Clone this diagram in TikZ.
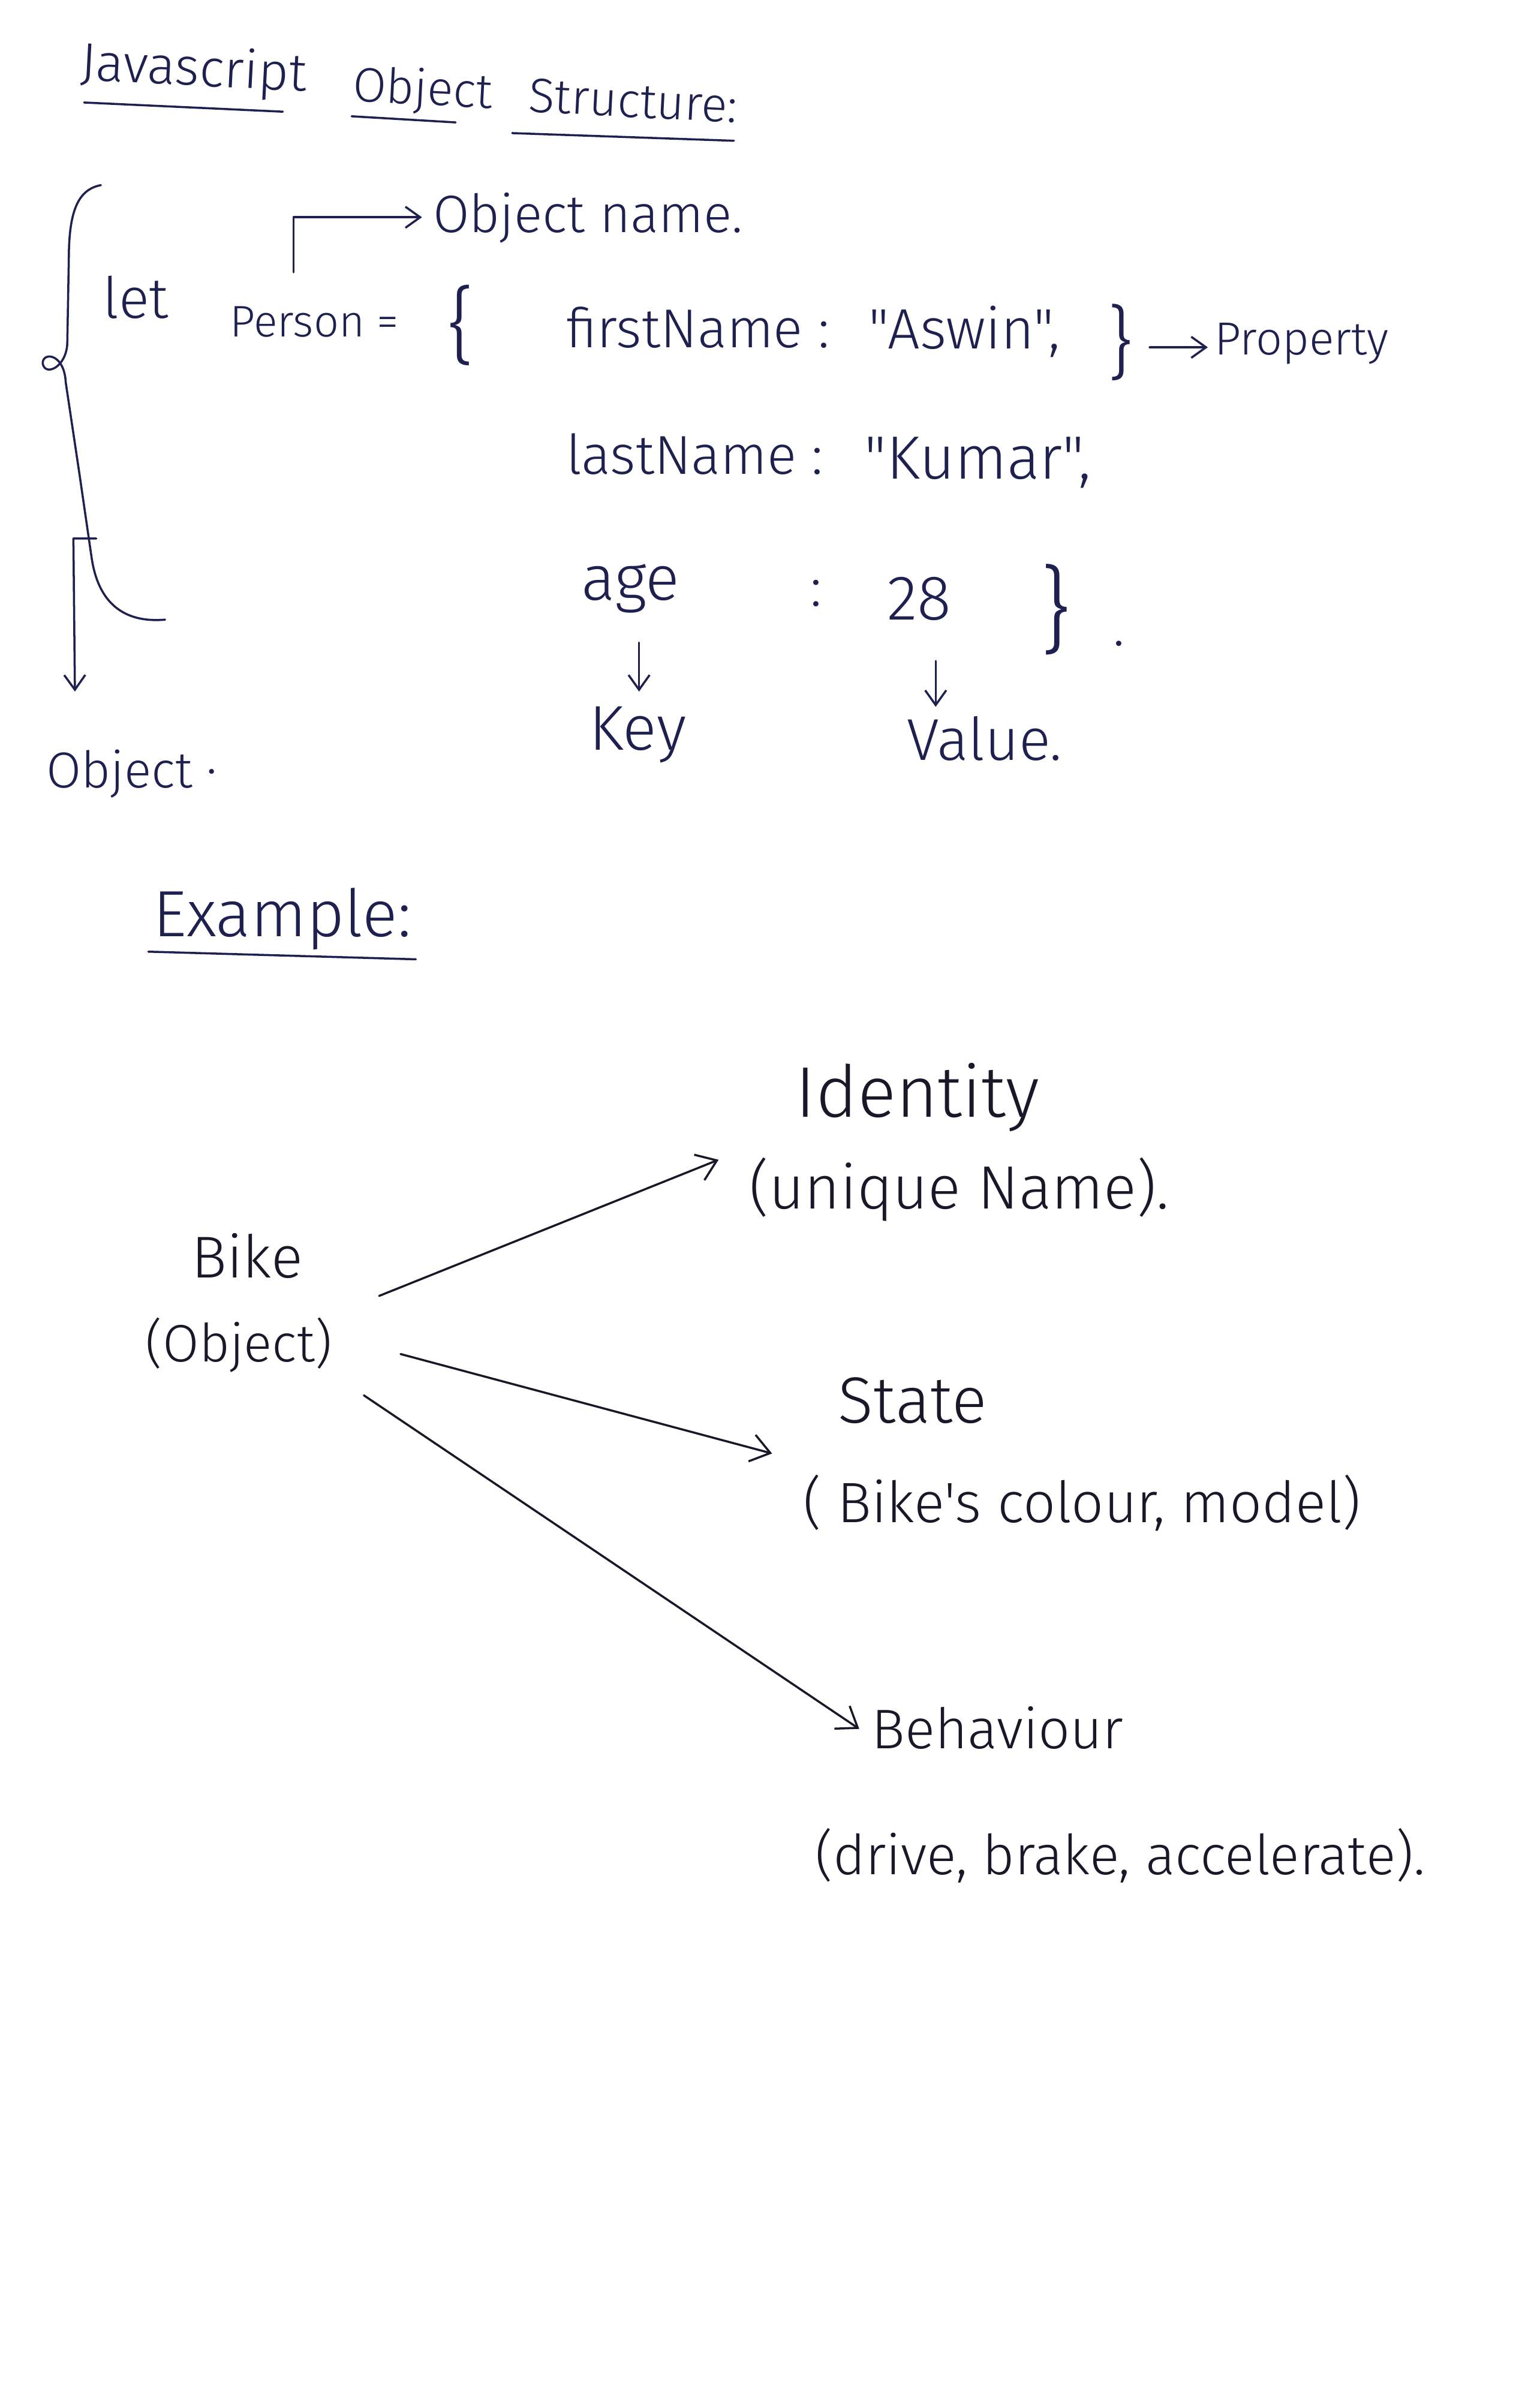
\documentclass[tikz,border=0pt]{standalone}
\usepackage{fontspec}
\setmainfont{Fira Sans}[UprightFont={* Light}, Ligatures=TeXOff]
\usetikzlibrary{arrows.meta}
\definecolor{inkA}{RGB}{30,32,80}
\definecolor{inkB}{RGB}{24,24,40}
\newcommand{\fs}[1]{\fontsize{#1}{#1}\selectfont}
\begin{document}
\begin{tikzpicture}[x=0.0255cm,y=-0.02551cm,
  txt/.style={inner sep=0pt, anchor=base west, text=inkA, font=\fs{26}},
  txtb/.style={txt, text=inkB},
  ttl/.style={txt, font=\fs{23}, rotate=-3},
  pen/.style={draw=inkA, line width=1pt, line cap=round, line join=round},
  penb/.style={pen, draw=inkB},
  arr/.style={pen, -{Straight Barb[length=7pt,width=10pt]}},
  arrb/.style={penb, -{Straight Barb[length=9pt,width=13pt]}}]
\useasboundingbox[fill=white] (0,0) rectangle (1007,1568);

% title
\node[ttl, font=\fs{25}] (t1) at (52,52) {Javascript};
\node[ttl] (t2) at (230,66) {Object};
\node[ttl] (t3) at (345,73) {Structure:};
\draw[pen] (55,67) -- (185,73);
\draw[pen] (230,76) -- (298,80);
\draw[pen] (335,87) -- (480,92);

% object name
\node[txt, font=\fs{25}] (oname) at (283,152) {Object name.};
\coordinate (onS) at (192,178);
\coordinate (onC) at (192,142);
\coordinate (onE) at (276,142);
\draw[arr] (onS) -- (onC) -- (onE);

% code
\node[txt, font=\fs{27}] (let) at (67,208) {let};
\node[txt, font=\fs{21}] (person) at (150,220) {Person =};
\node[txt, font=\fs{40}] (lb) at (292,232) {\{};
\node[txt] (fn) at (370,227) {firstName :};
\node[txt, font=\fs{27}] (asw) at (568,228) {"Aswin",};
\node[txt, font=\fs{38}] (rb1) at (724,242) {\}};
\coordinate (pS) at (752,227);
\coordinate (pE) at (790,227);
\draw[arr] (pS) -- (pE);
\node[txt, font=\fs{22}] (prop) at (794,232) {Property};
\node[txt] (ln) at (370,310) {lastName :};
\node[txt, font=\fs{29}] (kum) at (565,313) {"Kumar",};
\node[txt, font=\fs{30}] (age) at (380,392) {age};
\node[txt] (col3) at (530,396) {:};
\node[txt, font=\fs{30}] (v28) at (580,405) {28};
\node[txt, font=\fs{45}] (rb2) at (680,420) {\}};
\node[txt] (dot) at (728,422) {.};
\coordinate (kS) at (418,420);
\coordinate (kE) at (418,452);
\draw[arr] (kS) -- (kE);
\node[txt, font=\fs{30}] (key) at (385,490) {Key};
\coordinate (vS) at (612,432);
\coordinate (vE) at (612,462);
\draw[arr] (vS) -- (vE);
\node[txt, font=\fs{28}] (val) at (593,497) {Value.};

% big brace
\draw[pen] (66,121) .. controls (50,124) and (45,140) .. (45,170)
  -- (44,225) .. controls (43,240) and (30,246) .. (28,238)
  .. controls (27,230) and (42,230) .. (43,250)
  -- (52,310) -- (60,365) .. controls (65,398) and (85,407) .. (108,405);
\coordinate (obS) at (63,352);
\coordinate (obC) at (48,352);
\coordinate (obE) at (49,452);
\draw[arr] (obS) -- (obC) -- (obE);
\node[txt, font=\fs{24}] (obj) at (30,515) {Object ·};

% example
\node[txt, font=\fs{31}] (ex) at (100,612) {Example:};
\draw[pen] (97,622) -- (272,627);

\node[txtb, font=\fs{34}] (ident) at (520,730) {Identity};
\node[txtb, font=\fs{29}] (uniq) at (490,790) {(unique Name).};
\node[txtb, font=\fs{28}] (bike) at (125,835) {Bike};
\node[txtb, font=\fs{25}] (bobj) at (95,890) {(Object)};
\node[txtb, font=\fs{31}] (state) at (548,930) {State};
\node[txtb, font=\fs{27}] (sdesc) at (525,995) {( Bike's colour, model)};
\node[txtb, font=\fs{26.5}] (beh) at (570,1143) {Behaviour};
\node[txtb, font=\fs{26.2}] (bdesc) at (533,1225) {(drive, brake, accelerate).};

\coordinate (a1s) at (248,847);
\coordinate (a1e) at (470,758);
\coordinate (a2s) at (262,885);
\coordinate (a2e) at (505,950);
\coordinate (a3s) at (238,912);
\coordinate (a3e) at (562,1130);
\draw[arrb] (a1s) -- (a1e);
\draw[arrb] (a2s) -- (a2e);
\draw[arrb] (a3s) -- (a3e);
\end{tikzpicture}
\end{document}
